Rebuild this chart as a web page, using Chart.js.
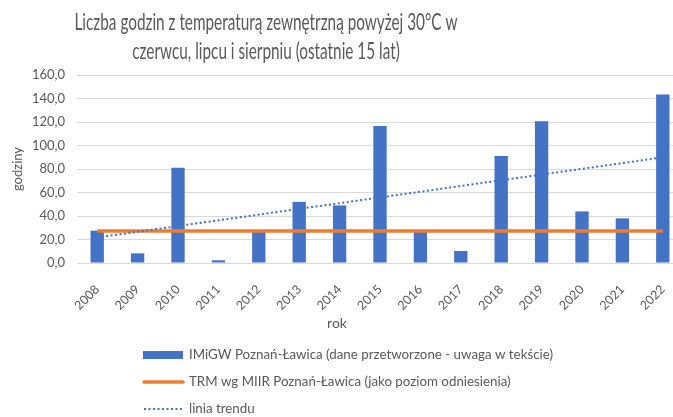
<!DOCTYPE html>
<html lang="pl">
<head>
<meta charset="utf-8">
<script src="https://cdn.jsdelivr.net/npm/chart.js@4.4.0/dist/chart.umd.min.js"></script>
<style>
  html, body { margin: 0; padding: 0; background: #fff; overflow: hidden; }
  #wrap { width: 686px; height: 417px; }
</style>
</head>
<body>
<div id="wrap"><canvas id="chart" width="686" height="417"></canvas></div>
<script>
// data
const years = ['2008', '2009', '2010', '2011', '2012', '2013', '2014', '2015',
               '2016', '2017', '2018', '2019', '2020', '2021', '2022'];
const hours = [27.5, 8.2, 81.0, 2.3, 26.5, 52.0, 49.0, 116.7,
               26.5, 10.2, 91.0, 120.6, 43.9, 38.0, 143.3];
const trmLevel = [27.2, 27.2, 27.2, 27.2, 27.2, 27.2, 27.2, 27.2,
                  27.2, 27.2, 27.2, 27.2, 27.2, 27.2, 27.2];
// trend line: only its two ends are read, the line spans the gap
const trend = [21.7, null, null, null, null, null, null, null,
               null, null, null, null, null, null, 89.9];
const yMax = 160;
const yStep = 20;

const titleLines = ['Liczba godzin z temperaturą zewnętrzną powyżej 30°C w',
                    'czerwcu, lipcu i sierpniu (ostatnie 15 lat)'];
const seriesLabels = ['IMiGW Poznań-Ławica (dane przetworzone - uwaga w tekście)',
                      'TRM wg MIIR Poznań-Ławica (jako poziom odniesienia)',
                      'linia trendu'];
const xTitle = 'rok';
const yTitle = 'godziny';

const grey = '#595959';
const blue = '#4472C4';
const orange = '#ED7D31';
const fontFamily = 'Lato, "Open Sans", sans-serif';

// title, x-axis title and legend are placed by hand like in the original
const decorations = {
    id: 'decorations',
    afterDraw(chart) {
        const ctx = chart.ctx;
        ctx.save();
        ctx.fillStyle = grey;
        ctx.textBaseline = 'alphabetic';
        ctx.textAlign = 'center';

        // title, squeezed horizontally like the source picture
        ctx.font = '23px ' + fontFamily;
        const sx = 383 / ctx.measureText(titleLines[0]).width;
        ctx.save();
        ctx.translate(266, 0);
        ctx.scale(sx, 1);
        ctx.fillText(titleLines[0], 0, 30);
        ctx.fillText(titleLines[1], 0, 59);
        ctx.restore();

        // x-axis title
        ctx.font = '14px ' + fontFamily;
        ctx.fillText(xTitle, 337, 328);

        // legend
        ctx.font = '13px ' + fontFamily;
        const ls = 364 / ctx.measureText(seriesLabels[0]).width;
        chart.data.datasets.forEach((ds, i) => {
            const y = 355 + i * 27;
            ctx.save();
            if (ds.type === 'bar') {
                ctx.fillStyle = ds.backgroundColor;
                ctx.fillRect(143, y - 4, 40, 8);
            } else {
                ctx.strokeStyle = ds.borderColor;
                ctx.lineWidth = ds.borderWidth;
                ctx.setLineDash(ds.borderDash || []);
                ctx.lineCap = ds.borderDash ? 'butt' : 'round';
                ctx.beginPath();
                ctx.moveTo(144, y);
                ctx.lineTo(183, y);
                ctx.stroke();
            }
            ctx.restore();
            ctx.save();
            ctx.textAlign = 'left';
            ctx.textBaseline = 'middle';
            ctx.translate(189, y);
            ctx.scale(ls, 1);
            ctx.fillText(ds.label, 0, 0);
            ctx.restore();
        });
        ctx.restore();
    }
};

const ctx = document.getElementById('chart').getContext('2d');
const chart = new Chart(ctx, {
    data: {
        labels: years,
        datasets: [{
            type: 'bar',
            label: seriesLabels[0],
            data: hours,
            backgroundColor: blue,
            barPercentage: 0.33,
            categoryPercentage: 1,
            order: 3
        }, {
            type: 'line',
            label: seriesLabels[1],
            data: trmLevel,
            borderColor: orange,
            borderWidth: 3.5,
            pointRadius: 0,
            fill: false,
            order: 2
        }, {
            type: 'line',
            label: seriesLabels[2],
            data: trend,
            borderColor: blue,
            borderWidth: 2,
            borderDash: [2, 2.5],
            borderCapStyle: 'butt',
            pointRadius: 0,
            spanGaps: true,
            fill: false,
            order: 1
        }]
    },
    options: {
        responsive: false,
        animation: false,
        layout: {
            padding: { top: 75, right: 3, bottom: 80, left: 0 }
        },
        plugins: {
            legend: { display: false },
            title: { display: false },
            tooltip: { enabled: false }
        },
        scales: {
            x: {
                grid: { display: false },
                border: { display: true, color: '#d9d9d9' },
                ticks: {
                    color: grey,
                    font: { family: fontFamily, size: 12.5 },
                    minRotation: 45,
                    maxRotation: 45,
                    padding: 11
                },
                afterFit(scale) { scale.height = 74; }
            },
            y: {
                min: 0,
                max: yMax,
                grid: { color: '#d9d9d9', drawTicks: false },
                border: { display: false },
                ticks: {
                    stepSize: yStep,
                    color: grey,
                    padding: 12,
                    font: { family: fontFamily, size: 13 },
                    callback: (v) => v.toFixed(1).replace('.', ',')
                },
                title: {
                    display: true,
                    text: yTitle,
                    color: grey,
                    font: { family: fontFamily, size: 13 },
                    padding: { top: 10, bottom: 0 }
                },
                afterFit(scale) { scale.width = 77; }
            }
        }
    },
    plugins: [decorations]
});
</script>
</body>
</html>
